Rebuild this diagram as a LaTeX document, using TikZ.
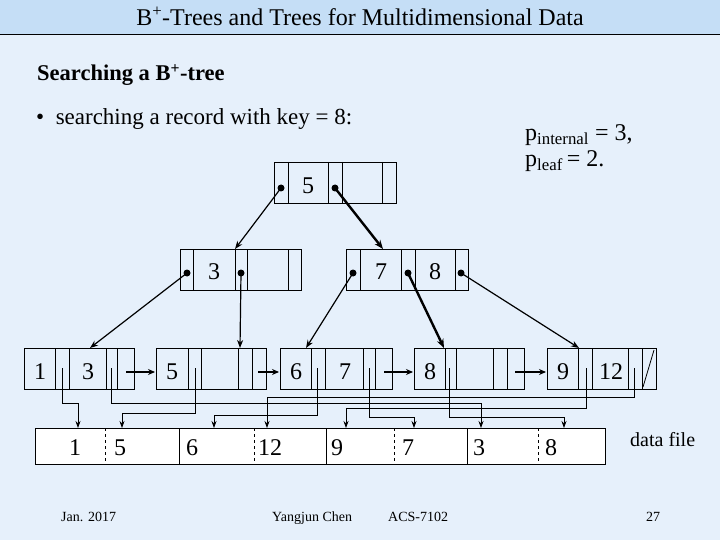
\documentclass[tikz,border=0pt]{standalone}
\usepackage{fontspec}
\setmainfont{Liberation Serif}
\usetikzlibrary{arrows.meta}
\begin{document}
\begin{tikzpicture}[x=1pt,y=-1pt,
  cell/.style={draw=black,line width=0.8pt},
  key/.style={inner sep=0pt,font=\fontsize{24}{24}\selectfont},
  dot/.style={circle,fill=black,inner sep=0pt,minimum size=7pt},
  tp/.style={-{Stealth[length=8pt,width=6pt]},line width=1.2pt},
  tpb/.style={-{Stealth[length=9pt,width=7pt]},line width=2.4pt},
  dp/.style={-{Stealth[length=7pt,width=5pt]},line width=0.8pt},
  dq/.style={line width=1.6pt,-{Stealth[length=7pt,width=6pt]}},
  lbl/.style={inner sep=0pt,anchor=base west}]
\useasboundingbox (0,0) rectangle (720,540);
\fill[fill={rgb,255:red,230;green,240;blue,251}] (0,0) rectangle (720,540);
\fill[fill={rgb,255:red,197;green,222;blue,246}] (0,0) rectangle (720,35);
\draw[line width=1pt] (0,35) -- (720,35);
\node[inner sep=0pt,anchor=base,font=\fontsize{24}{24}\selectfont] (title) at (360,26) {B\textsuperscript{+}-Trees and Trees for Multidimensional Data};
\node[lbl,font=\bfseries\fontsize{22.5}{22}\selectfont] (sub) at (37,81) {Searching a B\textsuperscript{+}-tree};
\node[lbl,font=\fontsize{23}{23}\selectfont] (bul) at (36,125) {\textbullet\ \ searching a record with key = 8:};
\node[lbl,font=\fontsize{24}{24}\selectfont] (pi) at (525,141) {p\textsubscript{internal} = 3,};
\node[lbl,font=\fontsize{24}{24}\selectfont] (pl) at (525,167) {p\textsubscript{leaf}\,= 2.};
\node[lbl,font=\fontsize{20}{20}\selectfont] (df) at (630,446) {data file};
\node[lbl,font=\fontsize{14}{14}\selectfont] (f1) at (61,521) {Jan. 2017};
\node[lbl,font=\fontsize{14}{14}\selectfont] (f2) at (272,521) {Yangjun Chen};
\node[lbl,font=\fontsize{14}{14}\selectfont] (f3) at (388,521) {ACS-7102};
\node[lbl,font=\fontsize{14}{14}\selectfont] (f4) at (646,521) {27};
% root
\draw[cell] (274,162) rectangle (396,203);
\foreach \x in {288,328,342,382} \draw[cell] (\x,162) -- (\x,203);
\node[key] (k5) at (308,186) {5};
\node[dot] (r0) at (281,188) {};
\node[dot] (r1) at (335,188) {};
% level 2
\foreach \a/\b in {180/301,346/468} {\draw[cell] (\a,249) rectangle (\b,290);}
\foreach \x in {193,235,247,288,360,401,415,455} \draw[cell] (\x,249) -- (\x,290);
\node[key] (k3) at (214,272) {3};
\node[key] (k7) at (381,272) {7};
\node[key] (k8) at (435,272) {8};
\node[dot] (a0) at (187,273) {};
\node[dot] (a1) at (241,273) {};
\node[dot] (b0) at (353,273) {};
\node[dot] (b1) at (408,273) {};
\node[dot] (b2) at (461,273) {};
\coordinate (A) at (235,249); \coordinate (B) at (383,249);
\draw[tp] (r0.center) -- (A);
\draw[tpb] (r1.center) -- (B);
% leaves
\foreach \a/\b/\c/\d/\e/\f in {24/55/69/106/117/134,156/188/201/238/252/266,280/311/325/363/375/392,414/445/456/493/507/524,547/578/592/628/642/656}
 {\draw[cell] (\a,348) rectangle (\f,389);
  \foreach \x in {\b,\c,\d,\e} \draw[cell] (\x,348) -- (\x,389);}
\draw[cell] (643,387) -- (654,350);
\node[key] (l1) at (40,372) {1};
\node[key] (l3) at (88,372) {3};
\node[key] (l5) at (172,372) {5};
\node[key] (l6) at (296,372) {6};
\node[key] (l7) at (345,372) {7};
\node[key] (l8) at (430,372) {8};
\node[key] (l9) at (563,372) {9};
\node[key] (l12) at (611,372) {12};
\coordinate (L1) at (90,348); \coordinate (L2) at (240,348);
\coordinate (L3) at (306,348); \coordinate (L4) at (444,348); \coordinate (L5) at (579,348);
\draw[tp] (a0.center) -- (L1);
\draw[tp] (a1.center) -- (L2);
\draw[tp] (b0.center) -- (L3);
\draw[tpb] (b1.center) -- (L4);
\draw[tp] (b2.center) -- (L5);
% next pointers
\foreach \s/\t in {126/155,258/279,384/413,515/546} {
 \coordinate (ns) at (\s,372); \coordinate (nt) at (\t,372);
 \draw[dq] (ns) -- (nt);}
% data file
\fill[white] (35,428) rectangle (605,464);
\draw[cell] (35,428) rectangle (605,464);
\foreach \x in {179,326,467} \draw[cell] (\x,428) -- (\x,464);
\foreach \x in {105,254,394,538} \draw[line width=0.8pt,dashed] (\x,428) -- (\x,464);
\foreach \n/\x/\t in {d1/75/1,d5/120/5,d6/192/6,d12/270/12,d9/337/9,d7/408/7,d3/479/3,d8/551/8}
  \node[key] (\n) at (\x,448) {\t};
% data pointers
\foreach \sx/\ry/\tx in {62/403/78,111/403/481,195/413/122,317/415/214,369/417/414,449/417/564,586/408/346,634/397/267} {
  \coordinate (ps) at (\sx,368); \coordinate (pt) at (\tx,428);
  \draw[dp] (ps) |- (\tx,\ry) -- (pt);}
\end{tikzpicture}
\end{document}
